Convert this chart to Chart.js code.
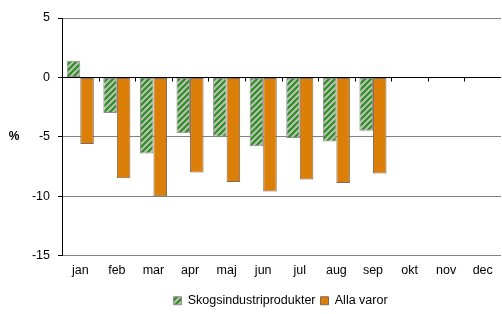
<!DOCTYPE html>
<html>
<head>
<meta charset="utf-8">
<script src="https://cdn.jsdelivr.net/npm/chart.js@4"></script>
<style>
  body { margin: 0; background: #fff; }
</style>
</head>
<body>
<canvas id="chart" width="502" height="314"></canvas>
<script>
const months = ['jan', 'feb', 'mar', 'apr', 'maj', 'jun', 'jul', 'aug', 'sep', 'okt', 'nov', 'dec'];
const skog = [1.4, -3.0, -6.4, -4.7, -5.0, -5.8, -5.1, -5.4, -4.5, null, null, null];
const allaVaror = [-5.6, -8.5, -10.0, -8.0, -8.8, -9.6, -8.6, -8.9, -8.1, null, null, null];
const yTicks = [5, 0, -5, -10, -15];

const FONT = '"Liberation Sans", Arial, sans-serif';

// striped fill for the green series
function stripes() {
    const c = document.createElement('canvas');
    c.width = 6; c.height = 6;
    const g = c.getContext('2d');
    g.fillStyle = '#bdbdb5';
    g.fillRect(0, 0, 6, 6);
    g.strokeStyle = '#23901a';
    g.lineWidth = 2;
    g.beginPath();
    g.moveTo(-1, 7); g.lineTo(7, -1);
    g.moveTo(-4, 4); g.lineTo(4, -4);
    g.moveTo(2, 10); g.lineTo(10, 2);
    g.stroke();
    return g.createPattern(c, 'repeat');
}

// tick marks on the zero line, and the "%" label
const extras = {
    id: 'extras',
    afterLayout(chart) {
        // legend sits a little lower and right in the original
        const lg = chart.legend;
        lg.top += 3; lg.bottom += 3;
        lg.left += 14; lg.right += 14;
    },
    afterDatasetsDraw(chart) {
        const ctx = chart.ctx;
        const x = chart.scales.x, y = chart.scales.y;
        const y0 = Math.round(y.getPixelForValue(0)) + 0.5;
        ctx.save();
        ctx.strokeStyle = '#000';
        ctx.lineWidth = 1;
        ctx.beginPath();
        ctx.moveTo(chart.chartArea.left, y0);
        ctx.lineTo(chart.chartArea.right, y0);
        for (let i = 1; i < months.length; i++) {
            const px = Math.round((x.getPixelForTick(i - 1) + x.getPixelForTick(i)) / 2) + 0.5;
            ctx.moveTo(px, y0);
            ctx.lineTo(px, y0 + 4);
        }
        ctx.stroke();
        ctx.fillStyle = '#000';
        ctx.font = 'bold 12px ' + FONT;
        ctx.textAlign = 'center';
        ctx.textBaseline = 'middle';
        ctx.fillText('%', 14, y.getPixelForValue(-5));
        ctx.restore();
    }
};

new Chart(document.getElementById('chart'), {
    type: 'bar',
    data: {
        labels: months,
        datasets: [{
            label: 'Skogsindustriprodukter',
            data: skog,
            backgroundColor: stripes(),
            borderColor: '#8c8c8c',
            borderWidth: 1,
            borderSkipped: false
        }, {
            label: 'Alla varor',
            data: allaVaror,
            backgroundColor: '#dc7f08',
            borderColor: '#806a55',
            borderWidth: 1,
            borderSkipped: false
        }]
    },
    options: {
        responsive: false,
        animation: false,
        layout: { padding: { top: 18, right: 1, left: 32, bottom: 0 } },
        datasets: { bar: { categoryPercentage: 0.74, barPercentage: 1 } },
        scales: {
            x: {
                grid: { display: false, drawTicks: false },
                border: { display: false },
                ticks: {
                    color: '#000',
                    padding: 8,
                    font: { family: FONT, size: 12.5 }
                }
            },
            y: {
                min: -15,
                max: 5,
                afterBuildTicks: (axis) => { axis.ticks = yTicks.map(v => ({ value: v })); },
                afterFit: (axis) => { axis.width = 30; },
                grid: { color: '#808080', tickLength: 4, tickColor: '#000' },
                border: { color: '#000' },
                ticks: {
                    color: '#000',
                    padding: 8,
                    font: { family: FONT, size: 12.5 }
                }
            }
        },
        plugins: {
            legend: {
                position: 'bottom',
                labels: {
                    color: '#000',
                    boxWidth: 8,
                    boxHeight: 8,
                    padding: 5,
                    font: { family: FONT, size: 12.5 }
                }
            },
            tooltip: { enabled: false }
        }
    },
    plugins: [extras]
});
</script>
</body>
</html>
